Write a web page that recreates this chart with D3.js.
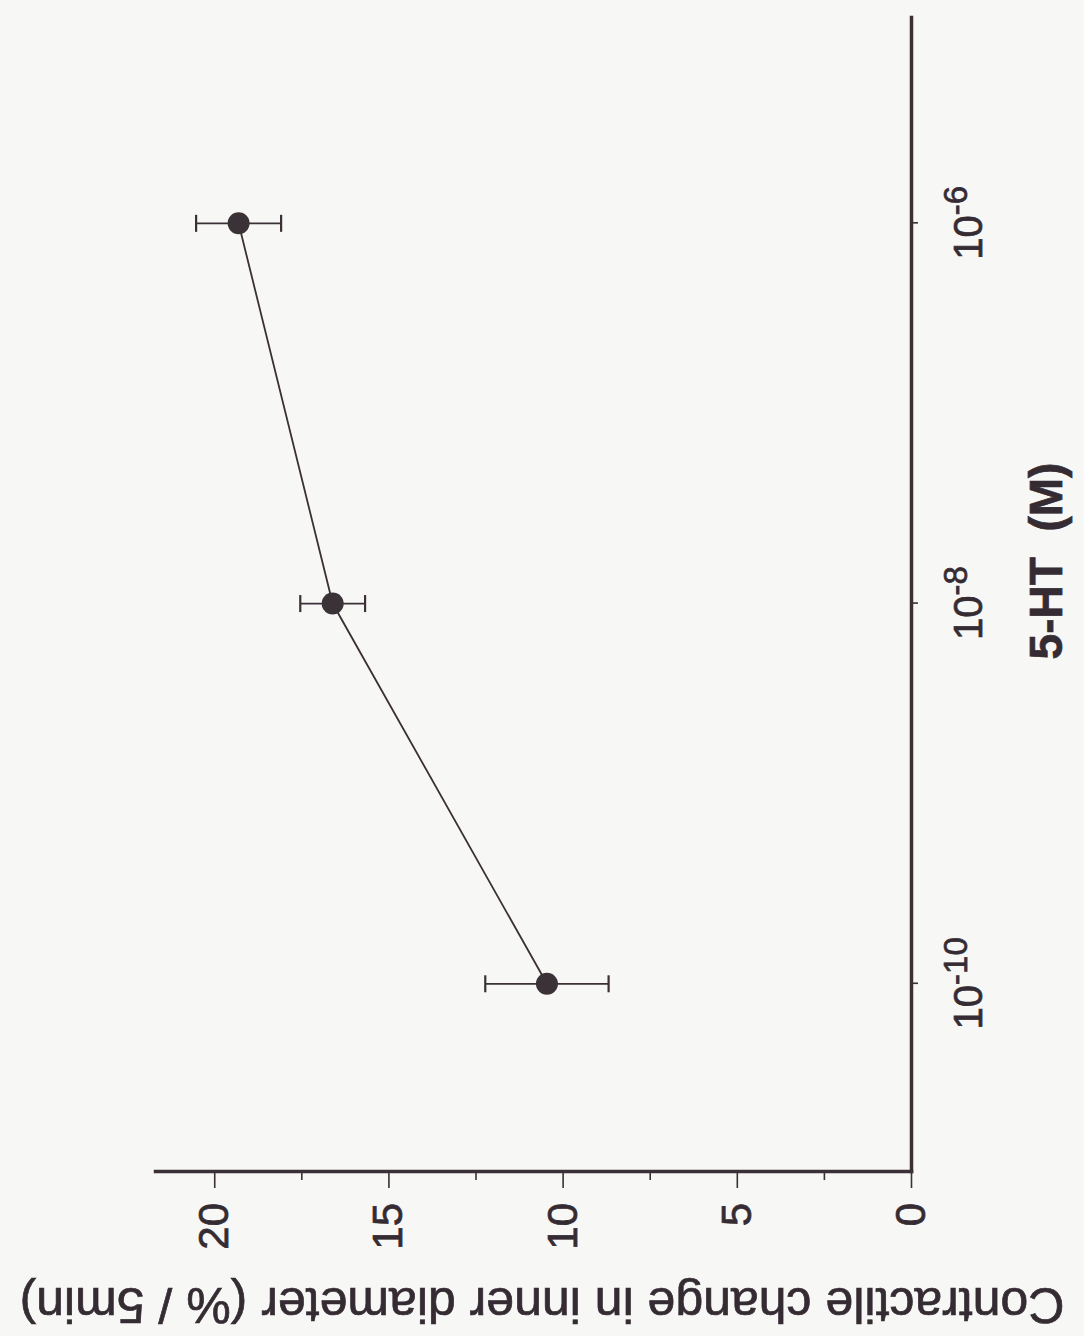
<!DOCTYPE html>
<html>
<head>
<meta charset="utf-8">
<script src="https://cdn.jsdelivr.net/npm/d3@7"></script>
<style>
    body { margin: 0; background: #f7f7f6; }
    svg { display: block; }
    text { font-family: "Liberation Sans", Arial, Helvetica, sans-serif; fill: #352c33; stroke: #352c33; stroke-width: 0.7px; }
</style>
</head>
<body>
<svg id="chart"></svg>
<script>
// 5-HT dose, as the power of ten
let doses = [-10, -8, -6];
// contractile change (% / 5min), mean and error
let contraction = [10.45, 16.6, 19.3];
let contractionErr = [1.77, 0.93, 1.22];
let valueTicks = [0, 5, 10, 15, 20];
let minorTicks = [2.5, 7.5, 12.5, 17.5];
let xTitle = "5-HT  (M)";
let yTitle = "Contractile change in inner diameter (% / 5min)";

let width = 1084,
    height = 1336,
    ink = "#3a3036";

let svg = d3.select('#chart')
    .attr('width', width)
    .attr('height', height);

svg.append('rect')
    .attr('width', width)
    .attr('height', height)
    .style('fill', '#f7f7f6');

// the figure is printed a quarter turn anticlockwise on the page
let g = svg.append('g')
    .attr('transform', 'translate(0,' + height + ') rotate(-90)')
    .style('color', ink);

let x = d3.scaleLinear()
    .domain([-10.99, -4.92])
    .range([164, 1318]);

let y = d3.scaleLinear()
    .domain([0, 21.7])
    .range([911, 155]);

// value axis
let yAxis = g.append('g')
    .attr('transform', 'translate(164,0)')
    .call(d3.axisLeft(y).tickValues(valueTicks).tickSize(16).tickSizeOuter(0).tickPadding(15));

yAxis.select('.domain').style('stroke-width', 3.5).style('stroke-linecap', 'square');
yAxis.selectAll('.tick line').style('stroke-width', 1.6);
yAxis.selectAll('.tick text').style('font-size', '42px');

let yMinor = g.append('g')
    .attr('transform', 'translate(164,0)')
    .call(d3.axisLeft(y).tickValues(minorTicks).tickSize(8).tickFormat(''));
yMinor.select('.domain').remove();
yMinor.selectAll('.tick line').style('stroke-width', 1.6);

// dose axis
let xAxis = g.append('g')
    .attr('transform', 'translate(0,911)')
    .call(d3.axisBottom(x).tickValues(doses).tickSize(7).tickSizeOuter(0).tickFormat(''));

xAxis.select('.domain').style('stroke-width', 3.5).style('stroke-linecap', 'square');
xAxis.selectAll('.tick line').style('stroke-width', 1.6);
xAxis.selectAll('.tick text').remove();

xAxis.selectAll('.tick').append('text')
    .attr('y', 71)
    .attr('text-anchor', 'middle')
    .style('font-size', '40px')
    .each(function(d) {
        let t = d3.select(this);
        t.append('tspan').text('10');
        t.append('tspan').attr('dy', -15).style('font-size', '33px').text(d);
    });

let pts = doses.map(function(d, i) {
    return {dose: d, v: contraction[i], e: contractionErr[i]};
});

// connecting line
let line = d3.line()
    .x(function(d) { return x(d.dose); })
    .y(function(d) { return y(d.v); });

g.append('path')
    .datum(pts)
    .attr('d', line)
    .style('fill', 'none')
    .style('stroke', ink)
    .style('stroke-width', 1.8);

// error bars
g.selectAll('.whisker')
    .data(pts)
    .enter()
    .append('line')
    .attr('class', 'whisker')
    .attr('x1', function(d) { return x(d.dose); })
    .attr('x2', function(d) { return x(d.dose); })
    .attr('y1', function(d) { return y(d.v - d.e); })
    .attr('y2', function(d) { return y(d.v + d.e); })
    .style('stroke', ink)
    .style('stroke-width', 1.8);

let caps = [];
pts.forEach(function(d) {
    caps.push({dose: d.dose, v: d.v - d.e});
    caps.push({dose: d.dose, v: d.v + d.e});
});

g.selectAll('.cap')
    .data(caps)
    .enter()
    .append('line')
    .attr('class', 'cap')
    .attr('x1', function(d) { return x(d.dose) - 8.5; })
    .attr('x2', function(d) { return x(d.dose) + 8.5; })
    .attr('y1', function(d) { return y(d.v); })
    .attr('y2', function(d) { return y(d.v); })
    .style('stroke', ink)
    .style('stroke-width', 2.2);

g.selectAll('circle')
    .data(pts)
    .enter()
    .append('circle')
    .attr('cx', function(d) { return x(d.dose); })
    .attr('cy', function(d) { return y(d.v); })
    .attr('r', 11)
    .style('fill', '#3b3237');

// axis titles
let title = g.append('text')
    .attr('transform', 'translate(48,542) rotate(-90)')
    .attr('text-anchor', 'middle')
    .style('font-size', '40px')
    .text(yTitle);

let w = title.node().getComputedTextLength();
title.style('font-size', (40 * 1045 / w) + 'px');

g.append('text')
    .attr('x', 775)
    .attr('y', 1062)
    .attr('text-anchor', 'middle')
    .style('font-size', '46px')
    .style('font-weight', 'bold')
    .style('white-space', 'pre')
    .text(xTitle);
</script>
</body>
</html>
